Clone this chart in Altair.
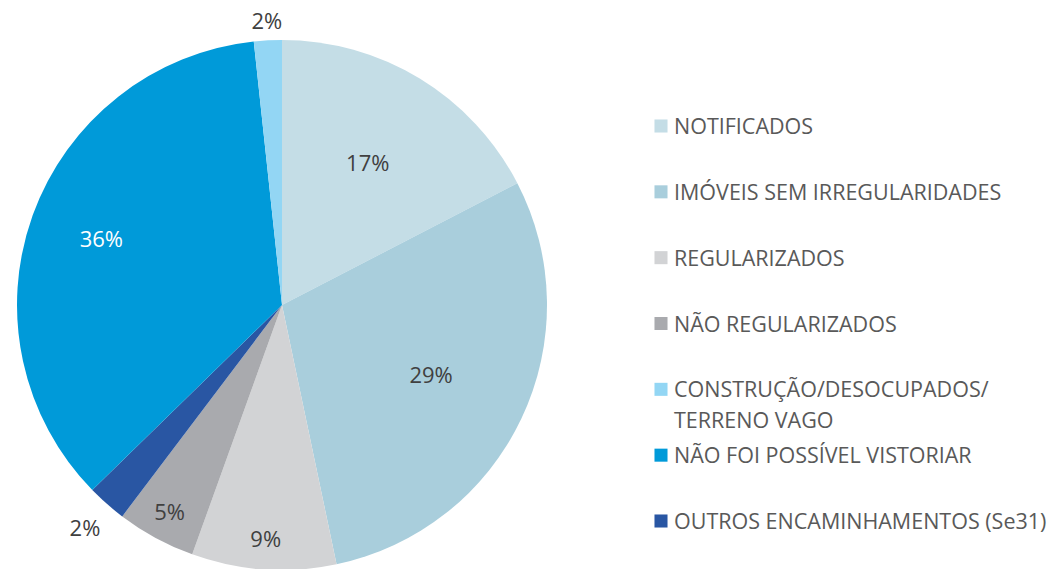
import altair as alt
import pandas as pd

# Slices in clockwise order starting at 12 o'clock
categories = [
    "NOTIFICADOS",
    "IMÓVEIS SEM IRREGULARIDADES",
    "REGULARIZADOS",
    "NÃO REGULARIZADOS",
    "OUTROS ENCAMINHAMENTOS (Se31)",
    "NÃO FOI POSSÍVEL VISTORIAR",
    "CONSTRUÇÃO/DESOCUPADOS/\nTERRENO VAGO",
]
values = [17.4, 29.3, 8.8, 4.8, 2.4, 35.6, 1.7]

# Legend order (as in the reference legend)
legend_order = [
    "NOTIFICADOS",
    "IMÓVEIS SEM IRREGULARIDADES",
    "REGULARIZADOS",
    "NÃO REGULARIZADOS",
    "CONSTRUÇÃO/DESOCUPADOS/\nTERRENO VAGO",
    "NÃO FOI POSSÍVEL VISTORIAR",
    "OUTROS ENCAMINHAMENTOS (Se31)",
]
legend_colors = ["#C4DDE6", "#A9CEDC", "#D2D3D5", "#A9AAAE", "#93D6F4", "#009AD9", "#2956A3"]

df = pd.DataFrame({
    "categoria": categories,
    "valor": values,
    "ordem": list(range(len(categories))),
})
df["leg"] = [legend_order.index(c) for c in categories]

color_scale = alt.Scale(domain=legend_order, range=legend_colors)
theta_scale = alt.Scale(domain=[0, 100])

base = alt.Chart(df)

pie = base.mark_arc(radius=265, stroke=None).encode(
    theta=alt.Theta("valor:Q", stack=True, scale=theta_scale),
    color=alt.Color("categoria:N", scale=color_scale, legend=None),
    order=alt.Order("ordem:Q"),
    x=alt.value(274),
    y=alt.value(297),
)

labels = base.transform_window(
    acum="sum(valor)", sort=[alt.SortField("ordem")], frame=[None, 0]
).transform_calculate(
    meio="datum.acum - datum.valor / 2",
    rotulo="format(datum.valor, '.0f') + '%'",
    raio=("datum.valor >= 30 ? 192 : datum.valor >= 10 ? 165 : datum.valor >= 4 ? 236"
          " : datum.ordem == 6 ? 283 : 298"),
).mark_text(font="Open Sans", fontSize=22, baseline="middle", align="center").encode(
    theta=alt.Theta("meio:Q", stack=None, scale=theta_scale),
    radius=alt.Radius("raio:Q", scale=None),
    text=alt.Text("rotulo:N"),
    color=alt.condition("datum.valor >= 30", alt.value("#FFFFFF"), alt.value("#404040")),
    x=alt.value(274),
    y=alt.value(297),
)

leg_y = alt.Y("leg:O", axis=None, scale=alt.Scale(type="point", range=[118, 513], padding=0))

leg_sq = base.mark_square(size=170, opacity=1).encode(
    x=alt.value(653),
    y=leg_y,
    color=alt.Color("categoria:N", scale=color_scale, legend=None),
)

leg_txt = base.mark_text(
    font="Open Sans", fontSize=21.5, align="left", baseline="alphabetic",
    dy=8, lineBreak="\n", lineHeight=31, color="#595959",
).encode(
    x=alt.value(666),
    y=leg_y,
    text="categoria:N",
)

chart = alt.layer(pie, labels, leg_sq, leg_txt).properties(
    width=1040, height=561, autosize=alt.AutoSizeParams(type="none"), padding=0,
).configure_view(stroke=None)

chart.save("out.html", embed_options={"renderer": "svg", "actions": False})
